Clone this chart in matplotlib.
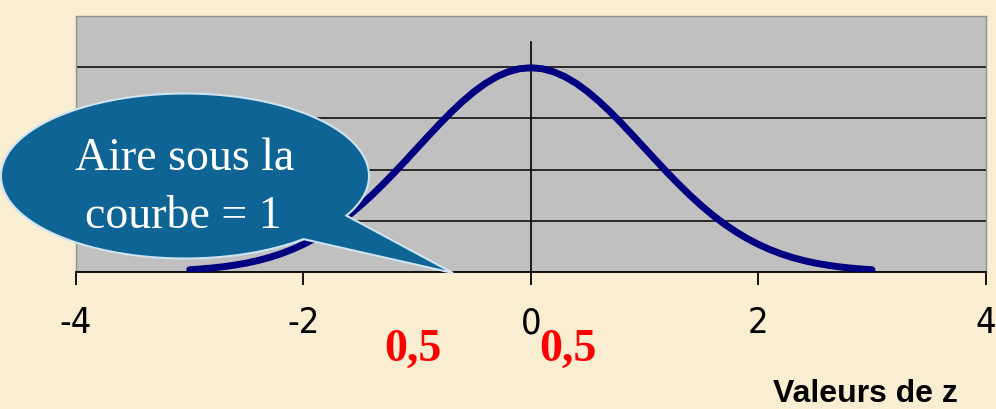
import numpy as np
import matplotlib.pyplot as plt
from matplotlib.patches import PathPatch
from matplotlib.path import Path

# standard normal density, read at steps of 0.1
z = [-3.0, -2.9, -2.8, -2.7, -2.6, -2.5, -2.4, -2.3, -2.2, -2.1,
     -2.0, -1.9, -1.8, -1.7, -1.6, -1.5, -1.4, -1.3, -1.2, -1.1,
     -1.0, -0.9, -0.8, -0.7, -0.6, -0.5, -0.4, -0.3, -0.2, -0.1,
     0.0, 0.1, 0.2, 0.3, 0.4, 0.5, 0.6, 0.7, 0.8, 0.9,
     1.0, 1.1, 1.2, 1.3, 1.4, 1.5, 1.6, 1.7, 1.8, 1.9,
     2.0, 2.1, 2.2, 2.3, 2.4, 2.5, 2.6, 2.7, 2.8, 2.9, 3.0]
density = [0.0044, 0.0060, 0.0079, 0.0104, 0.0136, 0.0175, 0.0224, 0.0283, 0.0355, 0.0440,
           0.0540, 0.0656, 0.0790, 0.0940, 0.1109, 0.1295, 0.1497, 0.1714, 0.1942, 0.2179,
           0.2420, 0.2661, 0.2897, 0.3123, 0.3332, 0.3521, 0.3683, 0.3814, 0.3910, 0.3970,
           0.3989, 0.3970, 0.3910, 0.3814, 0.3683, 0.3521, 0.3332, 0.3123, 0.2897, 0.2661,
           0.2420, 0.2179, 0.1942, 0.1714, 0.1497, 0.1295, 0.1109, 0.0940, 0.0790, 0.0656,
           0.0540, 0.0440, 0.0355, 0.0283, 0.0224, 0.0175, 0.0136, 0.0104, 0.0079, 0.0060,
           0.0044]
x_ticks = [-4, -2, 0, 2, 4]
grid_levels = [0.1, 0.2, 0.3, 0.4]
half_labels = ["0,5", "0,5"]

W, H = 996, 410
bg = "#F9EDD2"

fig = plt.figure(figsize=(W / 100, H / 100), dpi=100, facecolor=bg)
ax = fig.add_axes([76 / W, 1 - 273 / H, (985.7 - 76) / W, (273 - 17) / H])
ax.set_facecolor("#C0C0C0")
ax.set_xlim(-4, 4)
ax.set_ylim(0, 0.5)

for g in grid_levels:
    ax.axhline(g, color="black", lw=1.1, zorder=1)
ax.plot([0, 0], [0, 0.45], color="black", lw=1.2, zorder=1)

ax.plot(z, density, color="#000080", lw=5, solid_capstyle="round",
        solid_joinstyle="round", zorder=3)

for side in ["top", "right", "left"]:
    ax.spines[side].set_color("#909090")
    ax.spines[side].set_linewidth(1)
ax.spines["bottom"].set_color("black")
ax.spines["bottom"].set_linewidth(1.3)
ax.set_yticks([])
ax.set_xticks(x_ticks)
ax.set_xticklabels([str(t) for t in x_ticks], family="DejaVu Sans",
                   fontstretch="condensed", fontsize=26)
ax.tick_params(axis="x", direction="out", length=9, width=1.3, pad=15)

# callout bubble, built in pixel coordinates (y measured downward)
def to_fig(px, py):
    return px / W, 1 - py / H

cx, cy, a, b = 185, 177, 184, 82.5
t1 = np.arctan2((217 - cy) / b, (348 - cx) / a)
t2 = np.arctan2((242 - cy) / b, (307 - cx) / a)
ts = np.linspace(t2, t1 + 2 * np.pi, 200)
pts = [to_fig(cx + a * np.cos(t), cy + b * np.sin(t)) for t in ts]
pts.append(to_fig(453, 274))
pts.append(pts[0])
codes = [Path.MOVETO] + [Path.LINETO] * (len(pts) - 2) + [Path.CLOSEPOLY]
bubble = PathPatch(Path(pts, codes), transform=fig.transFigure, facecolor="#0F6496",
                   edgecolor="#CFE3F0", lw=1.5, zorder=10)
fig.patches.append(bubble)

serif = ["Liberation Serif", "DejaVu Serif"]
fig.text(*to_fig(185, 170), "Aire sous la", ha="center", va="baseline",
         color="white", fontsize=33, family=serif, zorder=11)
fig.text(*to_fig(183, 228), "courbe = 1", ha="center", va="baseline",
         color="white", fontsize=33, family=serif, zorder=11)

for px, lab in zip([413, 568], half_labels):
    fig.text(*to_fig(px, 361), lab, ha="center", va="baseline", color="#FF0000",
             fontsize=33, fontweight="bold", family=serif)

fig.text(*to_fig(865, 402), "Valeurs de z", ha="center", va="baseline",
         fontsize=23, fontweight="bold", family=["Liberation Sans", "DejaVu Sans"])

fig.savefig("out.png", dpi=100, facecolor=bg)
